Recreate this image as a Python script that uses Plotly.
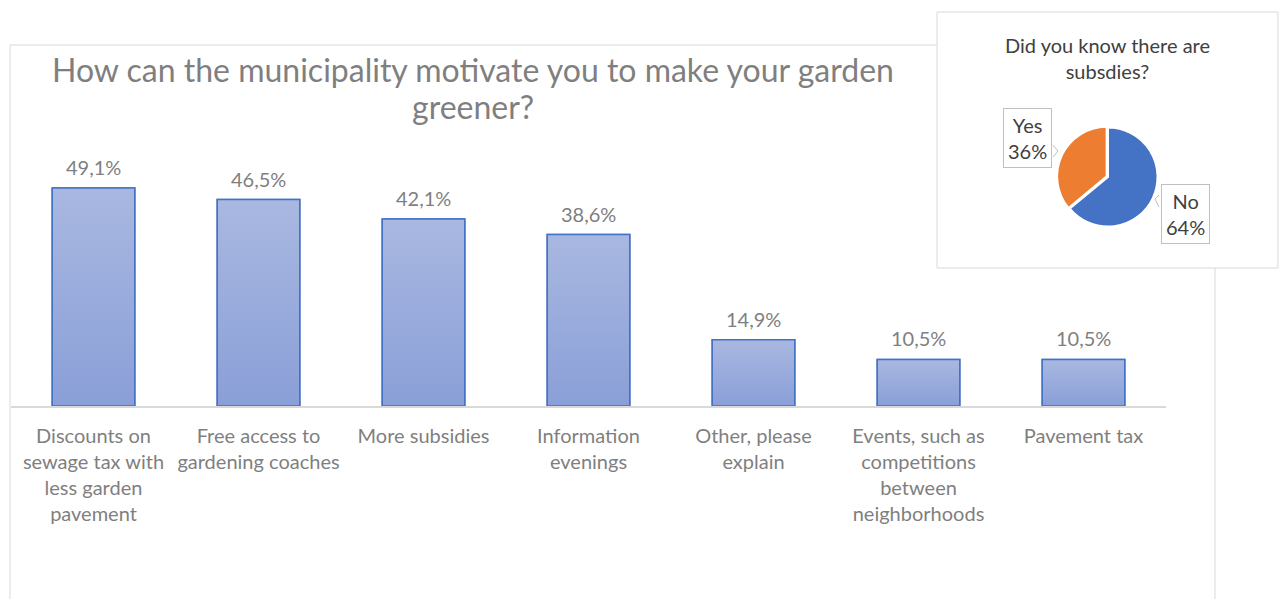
import plotly.graph_objects as go

# Survey results: motivations for greener gardens (share of respondents, %)
categories = [
    "Discounts on<br>sewage tax with<br>less garden<br>pavement",
    "Free access to<br>gardening coaches",
    "More subsidies",
    "Information<br>evenings",
    "Other, please<br>explain",
    "Events, such as<br>competitions<br>between<br>neighborhoods",
    "Pavement tax",
]
shares = [49.1, 46.5, 42.1, 38.6, 14.9, 10.5, 10.5]

# Inset: awareness of subsidies
pie_labels = ["No", "Yes"]
pie_values = [64, 36]

title_lines = ["How can the municipality motivate you to make your garden", "greener?"]
inset_title = "Did you know there are<br>subsdies?"

W, H = 1282, 599
L, R, T, B = 11, 116, 80, 193
PW, PH = W - L - R, H - T - B


def px_x(px):
    return (px - L) / PW


def px_y(py):
    return (H - B - py) / PH


FONT = "Lato"
GREY = "#7f7f7f"
DARK = "#404040"
BORDER = "#d9d9d9"
BAR_EDGE = "#4472C4"
BAR_W = 0.5
positions = list(range(len(categories)))

fig = go.Figure()

fig.add_trace(go.Bar(
    x=positions,
    y=shares,
    width=BAR_W,
    marker=dict(color="#99abdc", line=dict(color=BAR_EDGE, width=1.5)),
    hoverinfo="skip",
    showlegend=False,
))

# vertical gradient fill for each bar (lighter at the top)
for i, v in zip(positions, shares):
    x0, x1 = i - BAR_W / 2, i + BAR_W / 2
    fig.add_trace(go.Scatter(
        x=[x0, x1, x1, x0, x0],
        y=[0, 0, v, v, 0],
        mode="lines",
        fill="toself",
        fillgradient=dict(type="vertical",
                          colorscale=[[0, "#8a9fd8"], [1, "#a9b8e1"]]),
        line=dict(color=BAR_EDGE, width=1.5),
        hoverinfo="skip",
        showlegend=False,
    ))

fig.add_trace(go.Pie(
    labels=pie_labels,
    values=pie_values,
    sort=False,
    direction="clockwise",
    rotation=0,
    pull=[0, 0.03],
    marker=dict(colors=["#4472C4", "#ED7D31"], line=dict(color="white", width=2)),
    textinfo="none",
    hoverinfo="skip",
    showlegend=False,
    domain=dict(x=[px_x(1057), px_x(1159)], y=[px_y(228), px_y(126)]),
))

annotations = []
# value labels above each bar
for i, v in zip(positions, shares):
    annotations.append(dict(
        x=i, y=v, xref="x", yref="y",
        text=f"{v:.1f}%".replace(".", ","),
        showarrow=False, yanchor="bottom", yshift=7,
        font=dict(family=FONT, size=20, color=GREY),
    ))

# chart title, one annotation per line
for line, cy in zip(title_lines, [70, 107]):
    annotations.append(dict(
        x=px_x(473), y=px_y(cy), xref="paper", yref="paper",
        text=line, showarrow=False, xanchor="center", yanchor="middle",
        font=dict(family=FONT, size=32, color=GREY),
    ))

# inset title
annotations.append(dict(
    x=px_x(1107), y=px_y(31), xref="paper", yref="paper",
    text=inset_title, showarrow=False, xanchor="center", yanchor="top",
    font=dict(family=FONT, size=20, color=DARK),
))

# pie callout boxes
total = sum(pie_values)
box_pos = {"Yes": (1027, 138), "No": (1185.5, 213.5)}
for lab, v in zip(pie_labels, pie_values):
    cx, cy = box_pos[lab]
    annotations.append(dict(
        x=px_x(cx), y=px_y(cy), xref="paper", yref="paper",
        text=f"{lab}<br>{round(100 * v / total)}%", showarrow=False,
        xanchor="center", yanchor="middle",
        font=dict(family=FONT, size=20, color=DARK),
        bgcolor="white", bordercolor="#bfbfbf", borderwidth=1, borderpad=4,
    ))


def notch(points):
    path = "M " + " L ".join(f"{px_x(x)},{px_y(y)}" for x, y in points)
    return dict(type="path", xref="paper", yref="paper", path=path,
                line=dict(color="#bfbfbf", width=1), fillcolor="white", layer="above")


shapes = [
    # outer chart frame
    dict(type="rect", xref="paper", yref="paper",
         x0=px_x(10), x1=px_x(1215), y0=px_y(640), y1=px_y(45),
         line=dict(color=BORDER, width=1), fillcolor="rgba(0,0,0,0)", layer="below"),
    # inset frame
    dict(type="rect", xref="paper", yref="paper",
         x0=px_x(937), x1=px_x(1278), y0=px_y(268), y1=px_y(12),
         line=dict(color=BORDER, width=1), fillcolor="white", layer="below"),
    # callout pointers on the pie label boxes
    notch([(1053, 145), (1058, 151), (1053, 157)]),
    notch([(1159, 195), (1155, 199), (1159, 207)]),
]

fig.update_layout(
    width=W, height=H,
    margin=dict(l=L, r=R, t=T, b=B),
    paper_bgcolor="white",
    plot_bgcolor="rgba(0,0,0,0)",
    annotations=annotations,
    shapes=shapes,
    xaxis=dict(
        range=[-0.5, len(categories) - 0.5],
        tickmode="array", tickvals=positions, ticktext=categories,
        showline=True, linecolor=BORDER, linewidth=1.5,
        showgrid=False, zeroline=False, ticks="",
        ticklabelstandoff=11,
        tickfont=dict(family=FONT, size=20, color=GREY),
        fixedrange=True,
    ),
    yaxis=dict(
        range=[0, PH * 49.1 / 218], visible=False, showgrid=False,
        fixedrange=True,
    ),
)

fig.write_html("out.html")
